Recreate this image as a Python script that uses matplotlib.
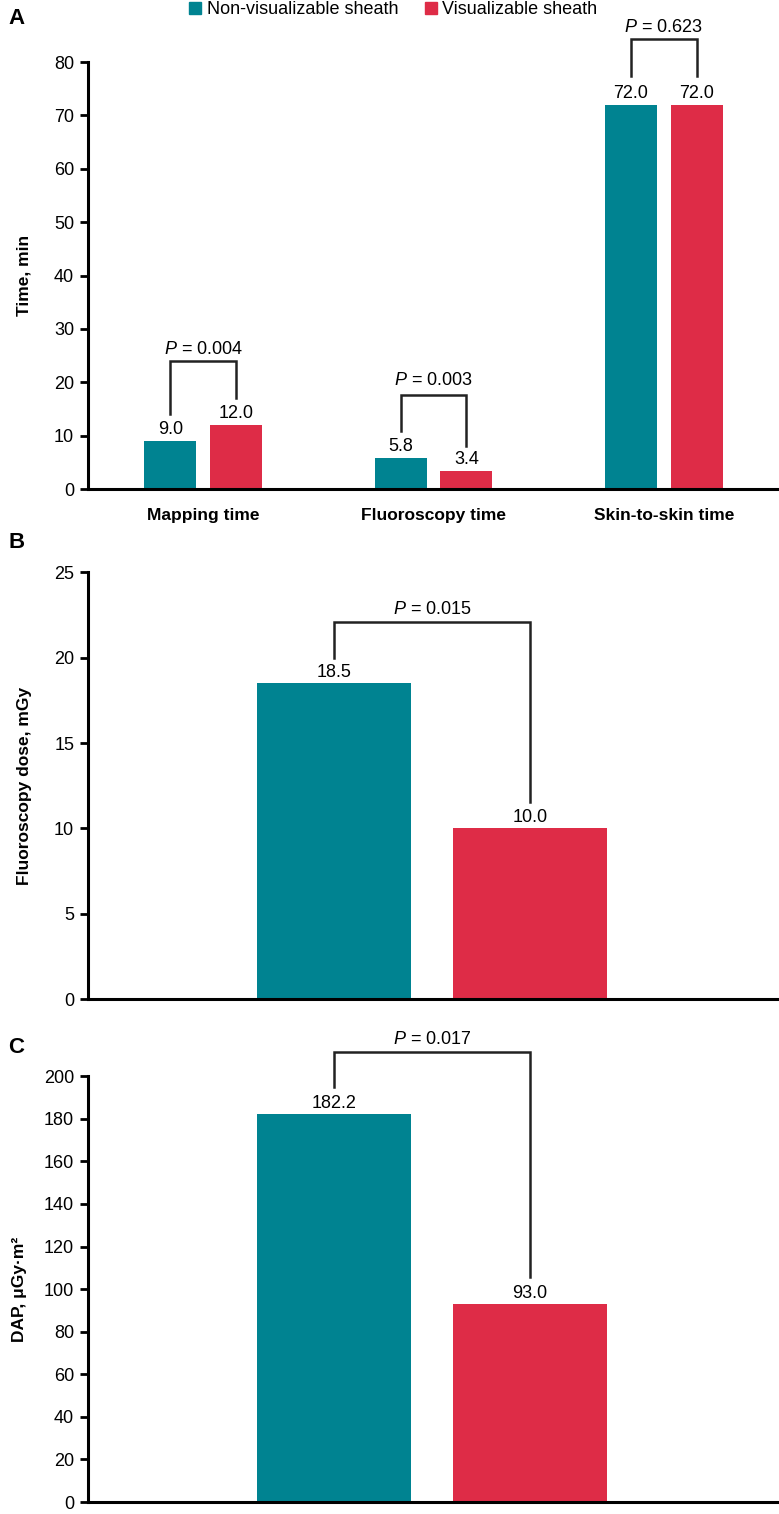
import numpy as np
import matplotlib
matplotlib.use("Agg")
import matplotlib.pyplot as plt
from matplotlib import font_manager
from matplotlib.patches import Patch

# DATA
groups_a = ["Mapping time", "Fluoroscopy time", "Skin-to-skin time"]
nonvis_a = [9.0, 5.8, 72.0]
vis_a = [12.0, 3.4, 72.0]
pvals_a = ["0.004", "0.003", "0.623"]

nonvis_b = 18.5
vis_b = 10.0
pval_b = "0.015"

nonvis_c = 182.2
vis_c = 93.0
pval_c = "0.017"

series_names = ["Non-visualizable sheath", "Visualizable sheath"]
TEAL = "#008391"
RED = "#DE2C47"

# pick a narrow font if one is there
names = set(f.name for f in font_manager.fontManager.ttflist)
fam = "Liberation Sans Narrow" if "Liberation Sans Narrow" in names else "Liberation Sans"
plt.rcParams['font.family'] = [fam, 'DejaVu Sans']
plt.rcParams['mathtext.fontset'] = 'custom'
plt.rcParams['mathtext.it'] = fam + ':italic'
plt.rcParams['mathtext.rm'] = fam

fig = plt.figure(figsize=(7.79, 15.14), dpi=100)


def style_axis(ax):
    for s in ['top', 'right']:
        ax.spines[s].set_visible(False)
    for s in ['left', 'bottom']:
        ax.spines[s].set_linewidth(2.2)
    ax.tick_params(axis='y', length=6, width=2, labelsize=13, pad=4)
    ax.tick_params(axis='x', length=0, labelsize=12.5, pad=14)


def bracket(ax, x1, x2, y1, y2, ytop, ytext, label):
    ax.plot([x1, x1, x2, x2], [y1, ytop, ytop, y2], color='#222222', lw=1.8,
            clip_on=False, solid_joinstyle='miter')
    ax.text((x1 + x2) / 2, ytext, "$P$ = " + label, ha='center', va='center',
            fontsize=13, clip_on=False)


# Panel A
axA = fig.add_axes([0.113, 0.677, 0.887, 0.282])
x = np.arange(len(groups_a))
w = 0.226
off = 0.143
axA.bar(x - off, nonvis_a, w, color=TEAL)
axA.bar(x + off, vis_a, w, color=RED)
for i in range(len(x)):
    axA.text(x[i] - off, nonvis_a[i] + 0.6, "%.1f" % nonvis_a[i], ha='center', va='bottom', fontsize=13)
    axA.text(x[i] + off, vis_a[i] + 0.6, "%.1f" % vis_a[i], ha='center', va='bottom', fontsize=13)
axA.set_xlim(-0.5, 2.5)
axA.set_ylim(0, 80)
axA.set_yticks(np.arange(0, 81, 10))
axA.set_xticks(x)
axA.set_xticklabels(groups_a, fontweight='bold')
axA.set_ylabel("Time, min", fontsize=12.5, fontweight='bold', labelpad=16)
style_axis(axA)
bracket(axA, x[0] - off, x[0] + off, 14.0, 17.0, 24.0, 26.2, pvals_a[0])
bracket(axA, x[1] - off, x[1] + off, 10.9, 8.05, 17.6, 20.3, pvals_a[1])
bracket(axA, x[2] - off, x[2] + off, 77.3, 77.3, 84.3, 86.5, pvals_a[2])

# Panel B
axB = fig.add_axes([0.113, 0.340, 0.887, 0.282])
wb = 0.786
axB.bar(0, nonvis_b, wb, color=TEAL)
axB.bar(1, vis_b, wb, color=RED)
axB.text(0, nonvis_b + 0.12, "%.1f" % nonvis_b, ha='center', va='bottom', fontsize=13)
axB.text(1, vis_b + 0.12, "%.1f" % vis_b, ha='center', va='bottom', fontsize=13)
axB.set_xlim(-1.255, 2.27)
axB.set_ylim(0, 25)
axB.set_yticks(np.arange(0, 26, 5))
axB.set_xticks([])
axB.set_ylabel("Fluoroscopy dose, mGy", fontsize=12.5, fontweight='bold', labelpad=16)
style_axis(axB)
bracket(axB, 0, 1, 20.0, 11.55, 22.1, 22.8, pval_b)

# Panel C
axC = fig.add_axes([0.113, 0.0079, 0.887, 0.2813])
axC.bar(0, nonvis_c, wb, color=TEAL)
axC.bar(1, vis_c, wb, color=RED)
axC.text(0, nonvis_c + 1.0, "%.1f" % nonvis_c, ha='center', va='bottom', fontsize=13)
axC.text(1, vis_c + 1.0, "%.1f" % vis_c, ha='center', va='bottom', fontsize=13)
axC.set_xlim(-1.255, 2.27)
axC.set_ylim(0, 200)
axC.set_yticks(np.arange(0, 201, 20))
axC.set_xticks([])
axC.set_ylabel("DAP, μGy·m²", fontsize=12.5, fontweight='bold', labelpad=12)
style_axis(axC)
bracket(axC, 0, 1, 194.8, 105.8, 211.3, 217.0, pval_c)

# panel letters
fig.text(0.011, 0.988, "A", fontsize=16, fontweight='bold', va='center')
fig.text(0.011, 0.642, "B", fontsize=16, fontweight='bold', va='center')
fig.text(0.011, 0.308, "C", fontsize=16, fontweight='bold', va='center')

# legend
handles = [Patch(color=TEAL), Patch(color=RED)]
fig.legend(handles, series_names, loc='center', bbox_to_anchor=(0.505, 0.9935), ncol=2,
           frameon=False, fontsize=13, handlelength=0.65, handleheight=0.65,
           handletextpad=0.3, columnspacing=1.5)

fig.savefig("out.png", dpi=100)
